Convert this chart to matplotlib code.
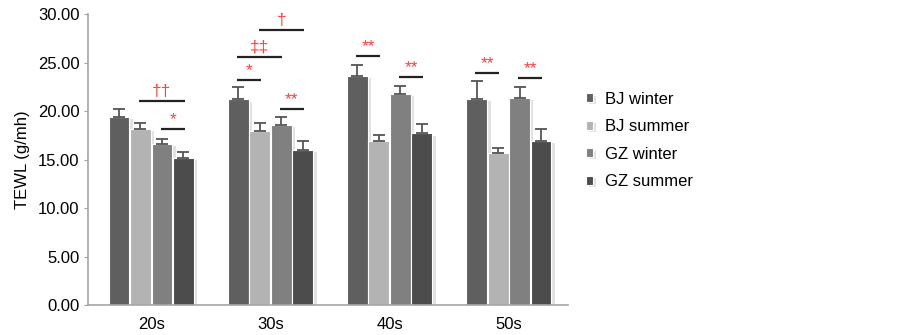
import matplotlib
matplotlib.use("Agg")
import matplotlib.pyplot as plt
import matplotlib.patheffects as pe
import numpy as np

plt.rcParams['font.family'] = ['Liberation Sans', 'DejaVu Sans']

groups = ["20s", "30s", "40s", "50s"]
series = ["BJ winter", "BJ summer", "GZ winter", "GZ summer"]
bj_winter = [19.4, 21.2, 23.6, 21.3]
bj_summer = [18.2, 17.9, 16.9, 15.7]
gz_winter = [16.6, 18.6, 21.8, 21.4]
gz_summer = [15.2, 16.0, 17.7, 16.9]
bj_winter_err = [0.8, 1.3, 1.2, 1.8]
bj_summer_err = [0.6, 0.9, 0.6, 0.5]
gz_winter_err = [0.5, 0.8, 0.8, 1.1]
gz_summer_err = [0.6, 0.9, 1.0, 1.3]
colors = ["#5f5f5f", "#b3b3b3", "#808080", "#4c4c4c"]

# significance annotations: (group, bar_from, bar_to, y, label)
sig_groups = [0, 0, 1, 1, 1, 1, 2, 2, 3, 3]
sig_from = [1, 2, 0, 0, 1, 2, 0, 2, 0, 2]
sig_to = [3, 3, 1, 2, 3, 3, 1, 3, 1, 3]
sig_y = [21.0, 18.2, 23.2, 25.6, 28.4, 20.2, 25.7, 23.5, 23.9, 23.4]
sig_labels = ["††", "*", "*", "‡‡", "†", "**", "**", "**", "**", "**"]

values = [bj_winter, bj_summer, gz_winter, gz_summer]
errors = [bj_winter_err, bj_summer_err, gz_winter_err, gz_summer_err]

fig = plt.figure(figsize=(9.03, 3.35), dpi=100)
ax = fig.add_axes([0.0975, 0.0896, 0.532, 0.868])

x = np.arange(len(groups))
width = 0.175
offsets = np.array([-0.27, -0.09, 0.09, 0.27])
shadow = [pe.SimplePatchShadow(offset=(2.5, -1.5), shadow_rgbFace='#cfcfcf', alpha=0.6), pe.Normal()]
for i, s in enumerate(series):
    bars = ax.bar(x + offsets[i], values[i], width, color=colors[i], edgecolor='white',
                  linewidth=0.8, label=s, zorder=2)
    for b in bars:
        b.set_path_effects(shadow)
    ax.errorbar(x + offsets[i], values[i], yerr=[np.zeros(len(groups)), errors[i]],
                fmt='none', ecolor='#555555', elinewidth=1.3, capsize=4, capthick=1.3, zorder=3)

for g, a, b, yv, lab in zip(sig_groups, sig_from, sig_to, sig_y, sig_labels):
    x0 = g + offsets[a] - 0.01
    x1 = g + offsets[b] + 0.01
    ax.plot([x0, x1], [yv, yv], color='#222222', lw=1.6, zorder=4, solid_capstyle='butt')
    ax.text((x0 + x1) / 2, yv + 0.2, lab, color='#ff4040', ha='center', va='bottom',
            fontsize=12.5, zorder=4)

ax.set_xlim(-0.53, 3.5)
ax.set_ylim(0, 30)
ax.set_yticks(np.arange(0, 31, 5))
ax.set_yticklabels([f"{v:.2f}" for v in np.arange(0, 31, 5)], fontsize=12)
ax.set_xticks(x)
ax.set_xticklabels(groups, fontsize=12)
ax.tick_params(axis='x', length=0, pad=9)
ax.tick_params(axis='y', length=3, color='#a0a0a0', pad=3)
for sp in ['top', 'right']:
    ax.spines[sp].set_visible(False)
for sp in ['left', 'bottom']:
    ax.spines[sp].set_color('#a6a6a6')
    ax.spines[sp].set_linewidth(1.2)
ax.set_ylabel("TEWL (g/mh)", fontsize=12, labelpad=6)

leg = fig.legend(loc='upper left', bbox_to_anchor=(0.632, 0.771), frameon=False, fontsize=12,
                 handlelength=0.42, handleheight=0.42, handletextpad=0.75, labelspacing=0.75)

fig.savefig("out.png", dpi=100)
